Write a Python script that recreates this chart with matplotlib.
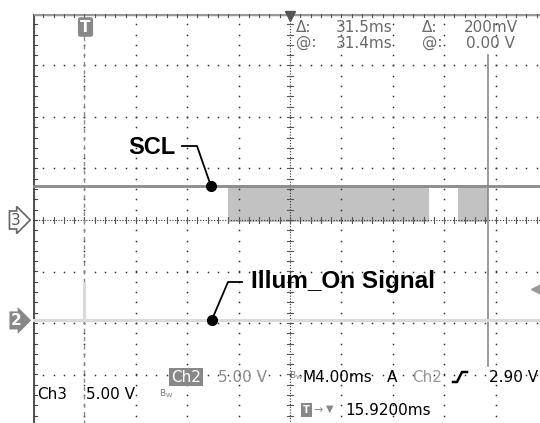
import matplotlib.pyplot as plt
import numpy as np
from matplotlib.transforms import blended_transform_factory

# scope settings
ms_per_div = 4.0
ch3_volts_per_div = 5.0
ch2_volts_per_div = 5.0
trigger_div = -4.0  # trigger point sits one division in from the left edge

# ground offsets of the channels, in divisions from screen centre
ch3_offset = 0.0
ch2_offset = -1.95

# SCL (Ch3): idle high, bursts of clock activity (ms after trigger)
scl_high_v = 3.3
scl_bursts = [(11.15, 26.8), (29.1, 31.4)]

# Illum_On (Ch2): stays low, faint blip at the trigger
illum_t = [-4.0, 0.0, 0.0, 0.0, 36.0]
illum_v = [0.0, 0.0, 3.6, 0.0, 0.0]

# cursors (ms after trigger)
cursor1_ms = 0.0
cursor2_ms = 31.4

# marker points for the callouts (ms after trigger)
scl_dot_ms = 9.85
illum_dot_ms = 9.9

W, H = 540, 423
X0, Y0 = 33, 14          # pixel of the left / top graticule edge
PXDIV_X, PXDIV_Y = 51.4, 51.5

MID = "#8a8a8a"


def t2x(t):
    return t / ms_per_div + trigger_div


def px(x, y):
    """pixel position on the picture -> division coordinates"""
    return -5 + (x - X0) / PXDIV_X, 4 - (y - Y0) / PXDIV_Y


fig = plt.figure(figsize=(W / 100, H / 100), dpi=100)
ax = fig.add_axes([X0 / W, 0, 1 - X0 / W, 1 - Y0 / H])
ax.set_xlim(-5, -5 + (W - X0) / PXDIV_X)
ax.set_ylim(4 - (H - Y0) / PXDIV_Y, 4)
ax.axis("off")

# graticule: dotted division lines
for gx in range(-4, 5):
    if gx == 0:
        continue
    ys = np.arange(-4, 4.01, 0.2)
    ax.plot(np.full_like(ys, gx), ys, ls="none", marker="s", ms=1.1, color="#333", mew=0)
for gy in range(-3, 4):
    if gy == 0:
        continue
    xs = np.arange(-5, 5.01, 0.2)
    ax.plot(xs, np.full_like(xs, gy), ls="none", marker="s", ms=1.1, color="#333", mew=0)

# centre axes with minor ticks
ax.plot([-5, 5], [0, 0], color="#333", lw=0.8, ls=(0, (1, 1.5)))
ax.plot([0, 0], [-4, 4], color="#333", lw=0.8, ls=(0, (1, 1.5)))
for v in np.arange(-5, 5.01, 0.2):
    ax.plot([v, v], [-0.05, 0.05], color="#555", lw=0.8)
for v in np.arange(-4, 4.01, 0.2):
    ax.plot([-0.05, 0.05], [v, v], color="#555", lw=0.8)

# borders with ticks
ax.plot([-5, -5], [-4, 4], color="#555", lw=3, solid_capstyle="butt")
for v in np.arange(-4, 4.01, 0.2):
    ax.plot([-5, -4.93], [v, v], color="#444", lw=0.8)
ax.plot([-5, 5], [4, 4], color="#999", lw=2.5)
for v in np.arange(-5, 5.01, 0.2):
    ax.plot([v, v], [4, 3.95], color="#555", lw=0.8)

# cursors
ax.plot([t2x(cursor1_ms)] * 2, [-4, 3.6], color=MID, lw=1, ls=(0, (3, 3)))
cy_top = px(0, 55)[1]
cy_bot = px(0, 366)[1]
ax.plot([t2x(cursor2_ms)] * 2, [cy_bot, cy_top], color=MID, lw=1.2)
ax.plot([t2x(cursor2_ms) - 0.12, t2x(cursor2_ms) + 0.12], [ch2_offset] * 2, color=MID, lw=1.2)

# Ch2 trace (Illum_On)
ax.plot([t2x(t) for t in illum_t], [v / ch2_volts_per_div + ch2_offset for v in illum_v],
        color="#dadada", lw=2.2)

# Ch3 trace (SCL)
scl_hi = scl_high_v / ch3_volts_per_div + ch3_offset
for a, b in scl_bursts:
    ax.fill_between([t2x(a), t2x(b)], ch3_offset - 0.04, scl_hi, color="#c2c2c2", lw=0)
ax.plot([t2x(-4), t2x(36)], [scl_hi, scl_hi], color=MID, lw=2)

# callouts
sx, sy = t2x(scl_dot_ms), scl_hi
ax.plot(sx, sy, "o", color="black", ms=7)
kx, ky = px(197, 146)
ex, _ = px(182, 146)
ax.plot([sx, kx, ex], [sy, ky, ky], color="black", lw=1.3)
ax.text(*px(176, 147), "SCL", ha="right", va="center", fontsize=17,
        fontweight="bold", family="Liberation Sans")

ix, iy = t2x(illum_dot_ms), ch2_offset
ax.plot(ix, iy, "o", color="black", ms=7)
kx, ky = px(228, 282)
ex, _ = px(242, 282)
ax.plot([ix, kx, ex], [iy, ky, ky], color="black", lw=1.3)
ax.text(*px(251, 281), "Illum_On Signal", ha="left", va="center", fontsize=17.5,
        fontweight="bold", family="Liberation Sans")

# readouts
ro = dict(family="DejaVu Sans", fontsize=11, va="center", ha="left")
for x, y, s in [(296, 27, "Δ:"), (336, 27, "31.5ms"), (422, 27, "Δ:"), (464, 27, "200mV"),
                (296, 43, "@:"), (336, 43, "31.4ms"), (422, 43, "@:"), (466, 43, "0.00 V")]:
    ax.text(*px(x, y), s, color="#6a6a6a", **ro)

ax.text(*px(171, 377), "Ch2", color="white", bbox=dict(fc="#888", ec="none", pad=1.2), **ro)
ax.text(*px(218, 377), "5.00 V", color="#8a8a8a", **ro)
ax.text(*px(37, 394), "Ch3", color="black", **ro)
ax.text(*px(86, 394), "5.00 V", color="black", **ro)
ax.text(*px(303, 377), "M4.00ms", color="black", **ro)
ax.text(*px(387, 377), "A", color="black", **ro)
ax.text(*px(412, 377), "Ch2", color="#999", **ro)
ax.text(*px(489, 377), "2.90 V", color="black", **ro)
ax.text(*px(345, 410), "15.9200ms", color="black", **ro)

# bandwidth-limit marks
for bx, by in [(159, 394), (289, 376)]:
    ax.text(*px(bx, by), r"B$_\mathregular{W}$", color="#777", fontsize=6.5,
            va="center", ha="left")

# rising edge symbol
edge = [px(453, 382), px(457, 382), px(462, 372), px(467, 372)]
ax.plot([p[0] for p in edge], [p[1] for p in edge], color="black", lw=1.8)

# trigger position readout icons
ax.text(*px(303, 410), "T", color="white", fontsize=7, fontweight="bold", va="center",
        ha="left", bbox=dict(boxstyle="square,pad=0.2", fc="#888", ec="none"))
ax.text(*px(313, 410), "→", color="#888", fontsize=8, va="center", ha="left")
ax.text(*px(326, 409), "▼", color="#888", fontsize=7, va="center", ha="left")

# trigger marker at the top
ax.text(*px(85.5, 27), "T", color="white", fontsize=11, fontweight="bold", va="center",
        ha="center", bbox=dict(boxstyle="round,pad=0.15", fc="#888", ec="none"))
ax.plot(*px(290, 16), marker="v", color="#555", ms=7, clip_on=False)
ax.plot(*px(536, 289), marker="<", color="#999", ms=7, clip_on=False)

# ground markers left of the screen
bt = blended_transform_factory(fig.transFigure, ax.transData)
ax.text(11 / W, ch3_offset, "3", transform=bt, fontsize=11, color="#555", va="center",
        ha="left", bbox=dict(boxstyle="rarrow,pad=0.1", fc="white", ec="#666", lw=1.2))
ax.text(11 / W, ch2_offset, "2", transform=bt, fontsize=11, color="white", fontweight="bold",
        va="center", ha="left", bbox=dict(boxstyle="rarrow,pad=0.1", fc="#888", ec="none"))

fig.savefig("out.png", dpi=100)
